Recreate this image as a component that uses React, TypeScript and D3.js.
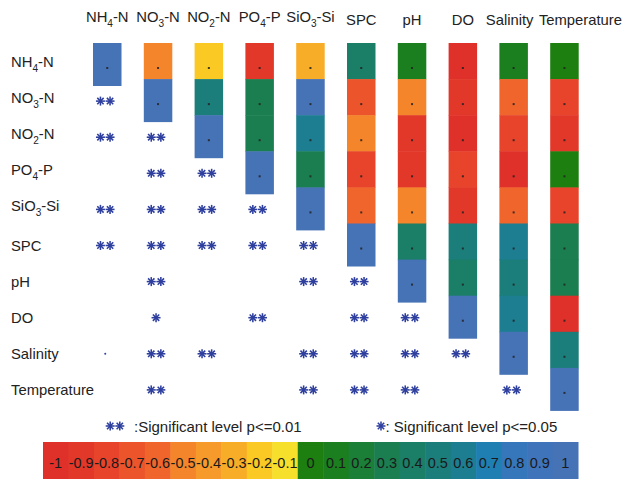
import React from "react";
import * as d3 from "d3";

const variables = ["NH4-N", "NO3-N", "NO2-N", "PO4-P", "SiO3-Si", "SPC", "pH", "DO", "Salinity", "Temperature"];

// Upper triangle (incl. diagonal) correlation values, row by row
const corrNH4 = [1, -0.5, -0.2, -0.9, -0.3, 0.4, 0.1, -1, 0.1, 0];
const corrNO3 = [1, 0.5, 0.3, 1, -0.7, -0.5, -0.9, -0.6, -0.8];
const corrNO2 = [1, 0.3, 0.6, -0.5, -0.9, -1, -0.8, -0.9];
const corrPO4 = [1, 0.3, -0.8, -0.9, -0.8, -1, 0];
const corrSiO3 = [1, -0.6, -0.5, -0.9, -0.6, -0.8];
const corrSPC = [1, 0.4, 0.5, 0.6, 0.3];
const corrPH = [1, 0.4, 0.5, 0.3];
const corrDO = [1, 0.6, -1];
const corrSal = [1, 0.5];
const corrTemp = [1];

// Lower triangle significance marks, row by row (columns 0..row-1)
const sigNH4: string[] = [];
const sigNO3 = ["**"];
const sigNO2 = ["**", "**"];
const sigPO4 = ["", "**", "**"];
const sigSiO3 = ["**", "**", "**", "**"];
const sigSPC = ["**", "**", "**", "**", "**"];
const sigPH = ["", "**", "", "", "**", "**"];
const sigDO = ["", "*", "", "**", "", "**", "**"];
const sigSal = [".", "**", "**", "", "**", "**", "**", "**"];
const sigTemp = ["", "**", "", "", "**", "**", "**", "", "**"];

const colorTicks = [-1, -0.9, -0.8, -0.7, -0.6, -0.5, -0.4, -0.3, -0.2, -0.1, 0, 0.1, 0.2, 0.3, 0.4, 0.5, 0.6, 0.7, 0.8, 0.9, 1];
const colorTickLabels = ["-1", "-0.9", "-0.8", "-0.7", "-0.6", "-0.5", "-0.4", "-0.3", "-0.2", "-0.1", "0", "0.1", "0.2", "0.3", "0.4", "0.5", "0.6", "0.7", "0.8", "0.9", "1"];
const colorbarColors = [
  "#e0302a", "#e2382a", "#e7442b", "#ec552c", "#f0652c", "#f4852b", "#f69a2b", "#f8ad28", "#fbc923", "#f7e02c",
  "#1c7f10", "#1b7f1f", "#1b7f38", "#1b7e50", "#1b7e66", "#1b7e7a", "#1d7e92", "#1f7fb2", "#3677bc", "#4074ba", "#4672b6",
];

const legendLabels = [":Significant level p<=0.01", ": Significant level p<=0.05"];

const corrRows = [corrNH4, corrNO3, corrNO2, corrPO4, corrSiO3, corrSPC, corrPH, corrDO, corrSal, corrTemp];
const sigRows = [sigNH4, sigNO3, sigNO2, sigPO4, sigSiO3, sigSPC, sigPH, sigDO, sigSal, sigTemp];

const W = 625;
const H = 479;
const FONT = "'Liberation Sans', Arial, Helvetica, sans-serif";
const STAR = "#2e3f9e";
const CELL_W = 28.5;
const headerNudge: Record<number, number> = { 8: -4, 9: 16 };

function Label({ text, x, y, anchor, size }: { text: string; x: number; y: number; anchor: string; size: number }) {
  const parts = text.split(/(\d)/).filter((p) => p.length > 0);
  const sub = /\d/.test(text);
  return (
    <text x={x} y={y - (sub ? 3.3 : 0)} textAnchor={anchor} fontFamily={FONT} fontSize={size} fill="#222">
      {parts.map((p, i) =>
        /\d/.test(p) ? (
          <tspan key={i} fontSize={size * 0.68} dy={5}>{p}</tspan>
        ) : (
          <tspan key={i} dy={i > 0 && /\d/.test(parts[i - 1]) ? -5 : 0}>{p}</tspan>
        )
      )}
    </text>
  );
}

function Star({ cx, cy, r = 4.5 }: { cx: number; cy: number; r?: number }) {
  const angles = [0, 45, 90, 135];
  return (
    <g stroke={STAR} strokeWidth={1.55} strokeLinecap="butt">
      {angles.map((a) => {
        const rad = (a * Math.PI) / 180;
        const dx = Math.cos(rad) * r;
        const dy = Math.sin(rad) * r;
        return <line key={a} x1={cx - dx} y1={cy - dy} x2={cx + dx} y2={cy + dy} />;
      })}
      <circle cx={cx} cy={cy} r={1.4} fill={STAR} stroke="none" />
    </g>
  );
}

function Mark({ kind, cx, cy }: { kind: string; cx: number; cy: number }) {
  if (kind === "**") {
    return (
      <g>
        <Star cx={cx - 4.8} cy={cy} />
        <Star cx={cx + 4.8} cy={cy} />
      </g>
    );
  }
  if (kind === "*") return <Star cx={cx} cy={cy} />;
  if (kind === ".") return <circle cx={cx} cy={cy} r={1} fill={STAR} />;
  return null;
}

export default function App() {
  const n = variables.length;
  const x = d3.scaleLinear().domain([0, n - 1]).range([93, 550.2]);
  const y = d3.scaleLinear().domain([0, n]).range([43, 404]);
  const color = d3.scaleQuantize<string>().domain([-1.05, 1.05]).range(colorbarColors);
  const cb = d3.scaleBand<string>().domain(colorTickLabels).range([43, 578]);

  const cells: React.ReactNode[] = [];
  for (let j = 0; j < n; j++) {
    for (let i = 0; i <= j; i++) {
      const v = corrRows[i][j - i];
      const top = y(i);
      const h = i === j ? 43 : y(i + 1) - y(i) + 0.5;
      cells.push(
        <rect key={`c${i}-${j}`} x={x(j)} y={top} width={CELL_W} height={h} fill={color(v)} />
      );
    }
  }
  const dots: React.ReactNode[] = [];
  for (let j = 0; j < n; j++) {
    for (let i = 0; i <= j; i++) {
      dots.push(
        <rect key={`d${i}-${j}`} x={x(j) + CELL_W / 2 - 1} y={y(i) + 24} width={2} height={2} fill="#222" opacity={0.85} />
      );
    }
  }
  const marks: React.ReactNode[] = [];
  sigRows.forEach((row, i) => {
    row.forEach((kind, j) => {
      if (!kind) return;
      marks.push(<Mark key={`m${i}-${j}`} kind={kind} cx={x(j) + CELL_W / 2 - 2} cy={y(i) + 22} />);
    });
  });

  return (
    <svg width={W} height={H} style={{ position: "absolute", left: 0, top: 0, background: "#fff" }}>
      <rect width={W} height={H} fill="#fff" />
      {variables.map((v, j) => (
        <Label key={`h${j}`} text={v} x={x(j) + CELL_W / 2 + (headerNudge[j] || 0)} y={25} anchor="middle" size={14.8} />
      ))}
      {variables.map((v, i) => (
        <Label key={`r${i}`} text={v} x={11} y={y(i) + 27} anchor="start" size={14.8} />
      ))}
      {cells}
      {dots}
      {marks}
      {/* legend */}
      <Mark kind="**" cx={115} cy={426} />
      <text x={134} y={431.5} fontFamily={FONT} fontSize={15} fill="#222">{legendLabels[0]}</text>
      <Star cx={381} cy={426} />
      <text x={385.5} y={431.5} fontFamily={FONT} fontSize={15} fill="#222">{legendLabels[1]}</text>
      {/* colorbar */}
      {colorTickLabels.map((t, k) => (
        <rect key={`cb${k}`} x={cb(t)!} y={442} width={cb.bandwidth() + 0.5} height={H - 442} fill={color(colorTicks[k])} />
      ))}
      {colorTickLabels.map((t, k) => (
        <text key={`cbt${k}`} x={cb(t)! + cb.bandwidth() / 2} y={467.5} textAnchor="middle" fontFamily={FONT} fontSize={14.5} fill="#1a1a1a">{t}</text>
      ))}
    </svg>
  );
}
